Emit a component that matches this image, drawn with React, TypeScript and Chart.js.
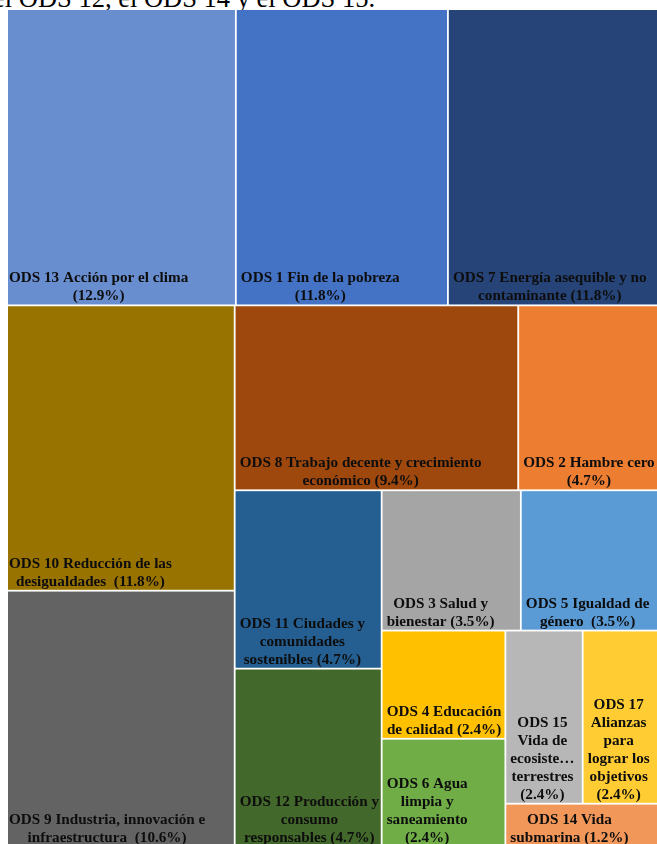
import React, { useEffect, useRef } from "react";
import { Chart, registerables } from "chart.js";

Chart.register(...registerables);

// ---- data ----
const CATEGORIES: string[] = [
  "ODS 13", "ODS 1", "ODS 7", "ODS 10", "ODS 9", "ODS 8", "ODS 2", "ODS 11",
  "ODS 12", "ODS 3", "ODS 5", "ODS 4", "ODS 6", "ODS 15", "ODS 17", "ODS 14",
];
const SHARES: number[] = [12.9, 11.8, 11.8, 11.8, 10.6, 9.4, 4.7, 4.7, 4.7, 3.5, 3.5, 2.4, 2.4, 2.4, 2.4, 1.2];
const LABEL_LINES: string[][] = [
  ["ODS 13 Acción por el clima", "(12.9%)"],
  ["ODS 1 Fin de la pobreza", "(11.8%)"],
  ["ODS 7 Energía asequible y no", "contaminante (11.8%)"],
  ["ODS 10 Reducción de las", "desigualdades  (11.8%)"],
  ["ODS 9 Industria, innovación e", "infraestructura  (10.6%)"],
  ["ODS 8 Trabajo decente y crecimiento", "económico (9.4%)"],
  ["ODS 2 Hambre cero", "(4.7%)"],
  ["ODS 11 Ciudades y", "comunidades", "sostenibles (4.7%)"],
  ["ODS 12 Producción y", "consumo", "responsables (4.7%)"],
  ["ODS 3 Salud y", "bienestar (3.5%)"],
  ["ODS 5 Igualdad de", "género  (3.5%)"],
  ["ODS 4 Educación", "de calidad (2.4%)"],
  ["ODS 6 Agua", "limpia y", "saneamiento", "(2.4%)"],
  ["ODS 15", "Vida de", "ecosiste…", "terrestres", "(2.4%)"],
  ["ODS 17", "Alianzas", "para", "lograr los", "objetivos", "(2.4%)"],
  ["ODS 14 Vida", "submarina (1.2%)"],
];
const COLORS: string[] = [
  "#698ED0", "#4472C4", "#264478", "#997300", "#636363", "#9E480E", "#ED7D31", "#255E91",
  "#43682B", "#A5A5A5", "#5B9BD5", "#FFC000", "#70AD47", "#B7B7B7", "#FFCD33", "#F1975A",
];
// number of cells in each successive strip of the treemap (Excel-like squarified strips)
const STRIPS: number[] = [3, 2, 2, 2, 2, 2, 2, 1];

const CANVAS_W = 656;
const CANVAS_H = 852;

type Cell = { x: number; y: number; x0: number; x1: number; y0: number; y1: number; i: number };

// layout in data units: x in [0,1], y in [0,1]; aspect = pixel width / pixel height
function squarifyStrips(values: number[], strips: number[], aspect: number): Cell[] {
  const cells: Cell[] = [];
  let x0 = 0, y0 = 0, w = 1, h = 1;
  let total = values.reduce((a, b) => a + b, 0);
  let idx = 0;
  for (const n of strips) {
    const group = values.slice(idx, idx + n);
    const gsum = group.reduce((a, b) => a + b, 0);
    const frac = gsum / total;
    if (w * aspect <= h) {
      const rh = h * frac;
      let cx = x0;
      group.forEach((v, k) => {
        const rw = (w * v) / gsum;
        cells.push({ x0: cx, x1: cx + rw, y0, y1: y0 + rh, x: cx + rw / 2, y: y0 + rh / 2, i: idx + k });
        cx += rw;
      });
      y0 += rh;
      h -= rh;
    } else {
      const cw = w * frac;
      let cy = y0;
      group.forEach((v, k) => {
        const ch = (h * v) / gsum;
        cells.push({ x0, x1: x0 + cw, y0: cy, y1: cy + ch, x: x0 + cw / 2, y: cy + ch / 2, i: idx + k });
        cy += ch;
      });
      x0 += cw;
      w -= cw;
    }
    total -= gsum;
    idx += n;
  }
  return cells;
}

const LABEL_FONT = 'bold 15.2px "Liberation Serif", "Times New Roman", serif';

const treemapPlugin = {
  id: "treemapCells",
  afterDatasetsDraw(chart: any) {
    const xs = chart.scales.x;
    const ys = chart.scales.y;
    const ctx: CanvasRenderingContext2D = chart.ctx;
    const cells: Cell[] = chart.data.datasets[0].data;
    const gap = 0.9;
    ctx.save();
    cells.forEach((c) => {
      const left = xs.getPixelForValue(c.x0);
      const right = xs.getPixelForValue(c.x1);
      const top = ys.getPixelForValue(c.y0);
      const bottom = ys.getPixelForValue(c.y1);
      ctx.fillStyle = COLORS[c.i];
      ctx.fillRect(left + gap, top + gap, right - left - 2 * gap, bottom - top - 2 * gap);
    });
    ctx.font = LABEL_FONT;
    ctx.fillStyle = "#0d0d0d";
    ctx.textAlign = "center";
    ctx.textBaseline = "alphabetic";
    cells.forEach((c) => {
      const left = xs.getPixelForValue(c.x0);
      const bottom = ys.getPixelForValue(c.y1);
      const lines = LABEL_LINES[c.i];
      const blockW = Math.max(...lines.map((l) => ctx.measureText(l).width));
      const cx = left + 5 + blockW / 2;
      const lh = 18;
      const lastBase = bottom - 5;
      lines.forEach((l, k) => {
        ctx.fillText(l, cx, lastBase - (lines.length - 1 - k) * lh);
      });
    });
    ctx.restore();
  },
};

function TreemapChart() {
  const ref = useRef<HTMLCanvasElement | null>(null);
  useEffect(() => {
    if (!ref.current) return;
    const cells = squarifyStrips(SHARES, STRIPS, CANVAS_W / CANVAS_H);
    const chart = new Chart(ref.current, {
      type: "scatter",
      data: {
        labels: CATEGORIES,
        datasets: [
          {
            label: "ODS",
            data: cells as any,
            pointRadius: 0,
            pointHoverRadius: 0,
            showLine: false,
          },
        ],
      },
      options: {
        responsive: false,
        animation: false,
        events: [],
        layout: { padding: 0 },
        plugins: {
          legend: { display: false },
          tooltip: { enabled: false },
          title: { display: false },
        },
        scales: {
          x: { type: "linear", min: 0, max: 1, display: false },
          y: { type: "linear", min: 0, max: 1, reverse: true, display: false },
        },
      },
      plugins: [treemapPlugin],
    });
    return () => chart.destroy();
  }, []);
  return (
    <canvas
      ref={ref}
      width={CANVAS_W}
      height={CANVAS_H}
      style={{ position: "absolute", left: -4, top: -15, width: CANVAS_W, height: CANVAS_H }}
    />
  );
}

export default function App() {
  return (
    <>
      <div
        style={{
          position: "absolute",
          left: -7,
          top: -15,
          fontFamily: '"Liberation Serif", "Times New Roman", serif',
          fontSize: "26.5px",
          lineHeight: "26.5px",
          whiteSpace: "nowrap",
          color: "#000",
        }}
      >
        el ODS 12, el ODS 14 y el ODS 15.
      </div>
      <div
        style={{
          position: "absolute",
          left: 8,
          top: 9.5,
          width: 649,
          height: 835,
          overflow: "hidden",
          background: "#fff",
        }}
      >
        <TreemapChart />
      </div>
    </>
  );
}
